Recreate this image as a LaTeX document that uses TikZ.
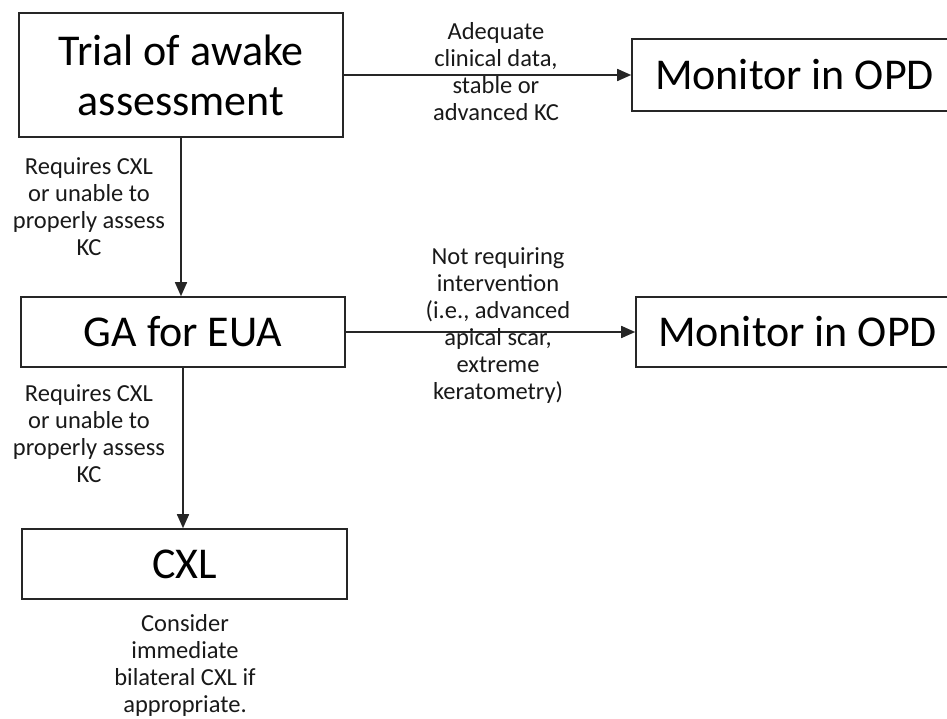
\documentclass[tikz,border=0pt]{standalone}
\usepackage{fontspec}
\setmainfont{Carlito}
\usetikzlibrary{arrows.meta}

\tikzset{
  stagebox/.style={draw=black!85, line width=1.6pt, inner sep=0pt, align=center,
    font=\fontsize{44}{50}\selectfont},
  note/.style={inner sep=0pt, align=center, text=black!90,
    font=\fontsize{24.5}{27}\selectfont},
  flow/.style={draw=black!85, line width=1.6pt, -{Triangle[length=14pt,width=12pt]}}
}

\begin{document}
\begin{tikzpicture}[x=1pt,y=-1pt]
  \useasboundingbox (0,0) rectangle (947,719);

  % stages
  \node[stagebox, minimum width=324pt, minimum height=124pt] (trial) at (181,75)
    {Trial of awake\\assessment};
  \node[stagebox, minimum width=325pt, minimum height=72pt] (mon1) at (794.5,75)
    {Monitor in OPD};
  \node[stagebox, minimum width=324pt, minimum height=70pt] (ga) at (183,332)
    {GA for EUA};
  \node[stagebox, minimum width=323pt, minimum height=70pt] (mon2) at (797.5,332)
    {Monitor in OPD};
  \node[stagebox, minimum width=325pt, minimum height=70pt] (cxl) at (184.5,564)
    {CXL};

  % connectors
  \draw[flow] (trial.east) -- (mon1.west);
  \draw[flow] (trial.south) -- (trial.south |- ga.north);
  \draw[flow] (ga.east) -- (mon2.west);
  \draw[flow] (ga.south) -- (ga.south |- cxl.north);

  % decision notes
  \node[note] (n1) at (496,72)
    {Adequate\\clinical data,\\stable or\\advanced KC};
  \node[note] (n2) at (89,207)
    {Requires CXL\\or unable to\\properly assess\\KC};
  \node[note] (n3) at (498,326)
    {Not requiring\\intervention\\(i.e., advanced\\apical scar,\\extreme\\keratometry)};
  \node[note] (n4) at (89,434)
    {Requires CXL\\or unable to\\properly assess\\KC};
  \node[note] (n5) at (185,665)
    {Consider\\immediate\\bilateral CXL if\\appropriate.};
\end{tikzpicture}
\end{document}
